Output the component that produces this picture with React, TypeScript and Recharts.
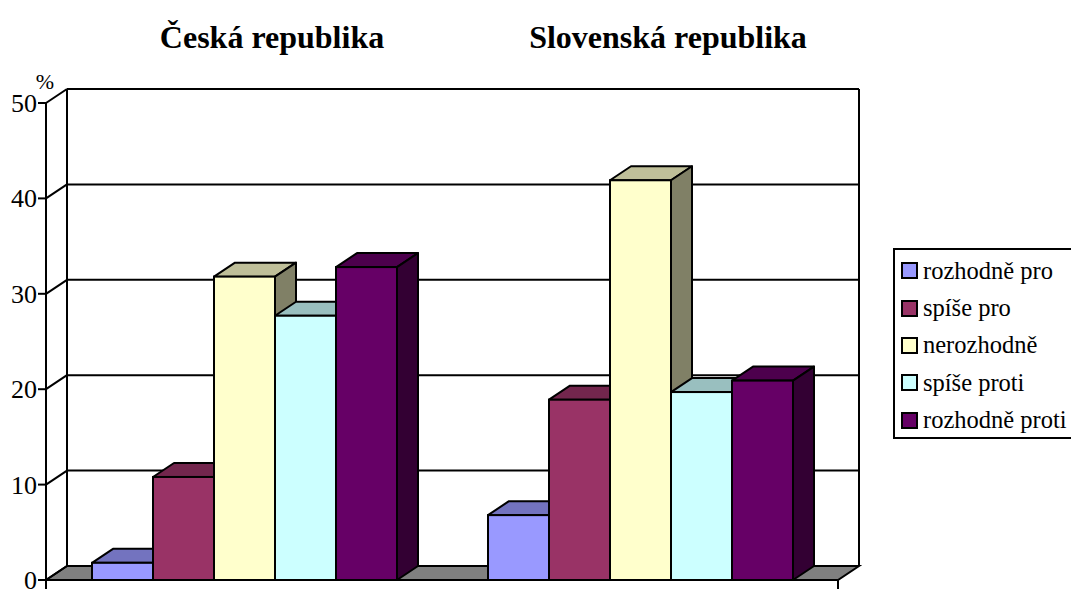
import { BarChart, Bar, XAxis, YAxis, CartesianGrid, Legend } from 'recharts'

const categories = ['Česká republika', 'Slovenská republika']
const rozhodnePro = [1.8, 6.8]
const spisePro = [10.8, 18.9]
const nerozhodne = [31.8, 41.9]
const spiseProti = [27.7, 19.7]
const rozhodneProti = [32.8, 20.9]
const yTicks = [0, 10, 20, 30, 40, 50]

const data = categories.map((name, i) => ({
  name,
  rozhodnePro: rozhodnePro[i],
  spisePro: spisePro[i],
  nerozhodne: nerozhodne[i],
  spiseProti: spiseProti[i],
  rozhodneProti: rozhodneProti[i],
}))

const series = [
  { key: 'rozhodnePro', name: 'rozhodně pro', front: '#9999ff', top: '#7373bf', side: '#4d4d80' },
  { key: 'spisePro', name: 'spíše pro', front: '#993366', top: '#73264d', side: '#4d1a33' },
  { key: 'nerozhodne', name: 'nerozhodně', front: '#ffffcc', top: '#bfbf99', side: '#808066' },
  { key: 'spiseProti', name: 'spíše proti', front: '#ccffff', top: '#99bfbf', side: '#668080' },
  { key: 'rozhodneProti', name: 'rozhodně proti', front: '#660066', top: '#4d004d', side: '#330033' },
]

// depth of the fake 3d
const DX = 21
const DY = 14
const FONT = 'Liberation Serif, Times New Roman, serif'

const Box3D = (props: any) => {
  const { x, y, width, height, fill, top, side } = props
  if (x == null || y == null) return null
  const r = x + width
  const b = y + height
  return (
    <g>
      <polygon
        points={`${x},${y} ${x + DX},${y - DY} ${r + DX},${y - DY} ${r},${y}`}
        fill={top}
        stroke="#000"
        strokeWidth={2}
        strokeLinejoin="round"
      />
      <polygon
        points={`${r},${y} ${r + DX},${y - DY} ${r + DX},${b - DY} ${r},${b}`}
        fill={side}
        stroke="#000"
        strokeWidth={2}
        strokeLinejoin="round"
      />
      <rect x={x} y={y} width={width} height={height} fill={fill} stroke="#000" strokeWidth={2} />
    </g>
  )
}

const HLine = (props: any) => {
  const { x1, y1, x2, index, y, height } = props
  const isFloor = y != null && height != null ? Math.abs(y1 - (y + height)) < 0.5 : index === 0
  return (
    <g key={`h-${index}`}>
      {isFloor ? (
        <polygon
          points={`${x1},${y1} ${x2},${y1} ${x2 + DX},${y1 - DY} ${x1 + DX},${y1 - DY}`}
          fill="#808080"
          stroke="#000"
          strokeWidth={2}
        />
      ) : (
        <line x1={x1 + DX} y1={y1 - DY} x2={x2 + DX} y2={y1 - DY} stroke="#000" strokeWidth={2} />
      )}
      <line x1={x1} y1={y1} x2={x1 + DX} y2={y1 - DY} stroke="#000" strokeWidth={2} />
    </g>
  )
}

const VLine = (props: any) => {
  const { x1, y1, x2, y2, index } = props
  return (
    <line
      key={`v-${index}`}
      x1={x1 + DX}
      y1={y1 - DY}
      x2={x2 + DX}
      y2={y2 - DY}
      stroke="#000"
      strokeWidth={2}
    />
  )
}

const NoTick = () => null

const TitleTick = (props: any) => {
  const { x, y, payload } = props
  return (
    <text
      x={x + 28}
      y={y - 55}
      textAnchor="middle"
      style={{ fontFamily: FONT, fontWeight: 'bold', fontSize: 32 }}
      fill="#000"
    >
      {payload.value}
    </text>
  )
}

const YTick = (props: any) => {
  const { x, y, payload } = props
  return (
    <text x={x} y={y} dy={9} textAnchor="end" fill="#000" style={{ fontFamily: FONT, fontSize: 26 }}>
      {payload.value}
    </text>
  )
}

const LegendBox = (props: any) => {
  const names = series.map((s) => s.name)
  const items = [...(props.payload || [])].sort(
    (a: any, b: any) => names.indexOf(a.value) - names.indexOf(b.value)
  )
  return (
    <div
      style={{
        border: '2px solid #000',
        background: '#fff',
        boxSizing: 'border-box',
        width: 180,
        height: 191,
        padding: '2px 0 0 6px',
        fontFamily: FONT,
        fontSize: 24.5,
        color: '#000',
      }}
    >
      {items.map((item: any) => (
        <div key={item.value} style={{ display: 'flex', alignItems: 'center', height: 37.4, whiteSpace: 'nowrap' }}>
          <span
            style={{
              display: 'inline-block',
              width: 17,
              height: 17,
              boxSizing: 'border-box',
              border: '2px solid #000',
              background: item.color,
              marginRight: 5,
              flexShrink: 0,
            }}
          />
          {item.value}
        </div>
      ))}
    </div>
  )
}

const App = (): JSX.Element => {
  return (
    <div style={{ position: 'absolute', left: 0, top: 0, background: '#fff', fontFamily: FONT }}>
      <BarChart
        width={1071}
        height={589}
        data={data}
        barSize={61}
        barGap={0}
        margin={{ top: 45, right: 233, left: 0, bottom: 0 }}
        style={{ fontFamily: FONT, overflow: 'hidden' }}
      >
        <CartesianGrid
          xAxisId="b"
          horizontal={(p: any) => <HLine {...p} />}
          vertical={(p: any) => <VLine {...p} />}
        />
        <XAxis
          xAxisId="t"
          dataKey="name"
          orientation="top"
          height={58}
          axisLine={false}
          tickLine={false}
          tickSize={0}
          tickMargin={0}
          interval={0}
          tick={<TitleTick />}
        />
        <XAxis
          xAxisId="b"
          type="number"
          domain={[0, 2]}
          allowDataOverflow
          ticks={[0, 1, 2]}
          height={9}
          tick={<NoTick />}
          tickSize={9}
          axisLine={{ stroke: '#000', strokeWidth: 2 }}
          tickLine={{ stroke: '#000', strokeWidth: 2 }}
        />
        <YAxis
          width={46}
          domain={[0, 50]}
          ticks={yTicks}
          interval={0}
          tickSize={8}
          tickMargin={1}
          axisLine={{ stroke: '#000', strokeWidth: 2 }}
          tickLine={{ stroke: '#000', strokeWidth: 2 }}
          tick={<YTick />}
          label={{ value: '%', position: 'top', dx: 22, offset: 14, fontSize: 22, fill: '#000', fontFamily: FONT }}
        />
        <Legend
          layout="vertical"
          align="center"
          verticalAlign="middle"
          wrapperStyle={{ left: 893, top: 248, width: 180 }}
          content={<LegendBox />}
        />
        {series.map((s) => (
          <Bar
            key={s.key}
            xAxisId="t"
            dataKey={s.key}
            name={s.name}
            fill={s.front}
            isAnimationActive={false}
            shape={(p: any) => <Box3D {...p} top={s.top} side={s.side} />}
          />
        ))}
      </BarChart>
    </div>
  )
}

export default App
